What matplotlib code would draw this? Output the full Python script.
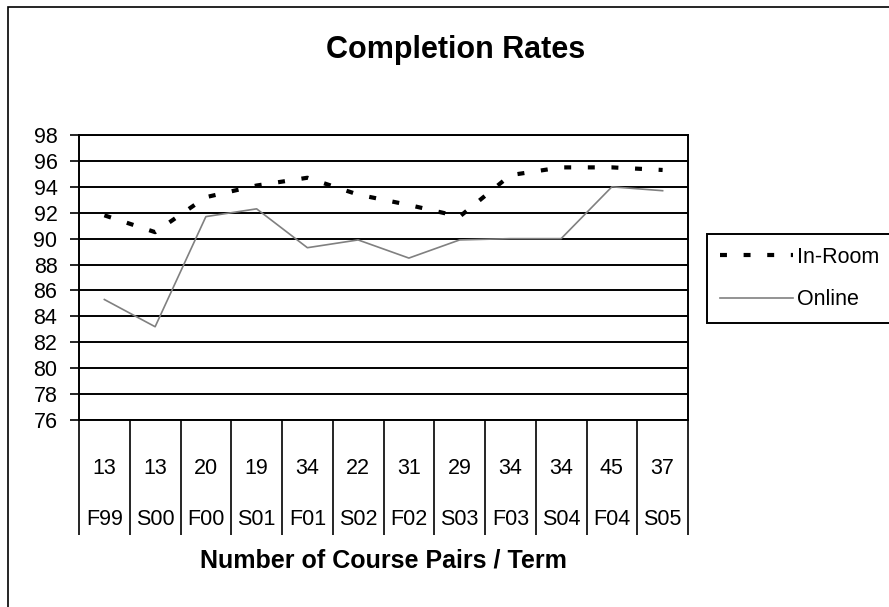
import numpy as np
from matplotlib import pyplot as plt
from matplotlib.patches import Rectangle
from matplotlib.transforms import blended_transform_factory as blend

terms = ['F99', 'S00', 'F00', 'S01', 'F01', 'S02', 'F02', 'S03', 'F03', 'S04', 'F04', 'S05']
pairs = [13, 13, 20, 19, 34, 22, 31, 29, 34, 34, 45, 37]
in_room = [91.8, 90.5, 93.2, 94.1, 94.7, 93.4, 92.6, 91.7, 94.9, 95.5, 95.5, 95.3]
online = [85.3, 83.2, 91.7, 92.3, 89.3, 89.9, 88.5, 89.9, 90.0, 90.0, 94.0, 93.7]
yticks = list(range(76, 99, 2))

plt.rcParams['font.family'] = ['Liberation Sans Narrow', 'Liberation Sans', 'DejaVu Sans']
plt.rcParams['lines.scale_dashes'] = False

W, H = 889, 607
fig = plt.figure(figsize=(W/100, H/100), dpi=100, facecolor='white')
ax = fig.add_axes([79/W, 1 - 420/H, (688 - 79)/W, 285/H])

x = np.arange(len(terms))
ax.plot(x, online, color='#808080', lw=1.2, label='Online', zorder=3)
ax.plot(x, in_room, color='black', lw=3, dashes=(5, 12), label='In-Room', zorder=4)

ax.set_xlim(-0.5, len(terms) - 0.5)
ax.set_ylim(yticks[0], yticks[-1])
ax.set_yticks(yticks)
ax.set_yticklabels([str(v) for v in yticks], fontsize=15.5)
for v in yticks:
    ax.axhline(v, color='black', lw=1.4, zorder=1)

# long ticks at the category borders make the little table under the plot
ax.set_xticks(np.arange(len(terms) + 1) - 0.5)
ax.set_xticklabels([])
ax.tick_params(axis='x', direction='out', length=83, width=1.2, color='black')
ax.tick_params(axis='y', direction='out', length=6.5, width=1.2, pad=9)
for s in ax.spines.values():
    s.set_color('black')
    s.set_linewidth(1.4)

tr = blend(ax.transData, ax.transAxes)
for i in x:
    ax.text(i, -54/285, str(pairs[i]), transform=tr, ha='center', va='baseline', fontsize=15.5)
    ax.text(i, -105/285, terms[i], transform=tr, ha='center', va='baseline', fontsize=15.5)

fig.text(456/W, 1 - 58/H, 'Completion Rates', ha='center', va='baseline', fontsize=22, fontweight='bold')
fig.text(383/W, 1 - 567/H, 'Number of Course Pairs / Term', ha='center', va='baseline', fontsize=18, fontweight='bold')

handles, labels = ax.get_legend_handles_labels()
leg = fig.legend(handles[::-1], labels[::-1], loc='upper left', bbox_to_anchor=(707/W, 1 - 234/H),
                 fontsize=15.5, frameon=True, fancybox=False, framealpha=1, edgecolor='black',
                 handlelength=3.4, handletextpad=0.2, labelspacing=1.0, borderpad=0.6, borderaxespad=0)
leg.get_frame().set_linewidth(1.4)

# outer border of the chart, cut off on the right and bottom
fig.patches.append(Rectangle((8/W, -0.2), 1.5, 1.2 - 7/H, transform=fig.transFigure,
                             fill=False, edgecolor='black', lw=1.2))

fig.savefig('out.png', dpi=100, facecolor='white')
